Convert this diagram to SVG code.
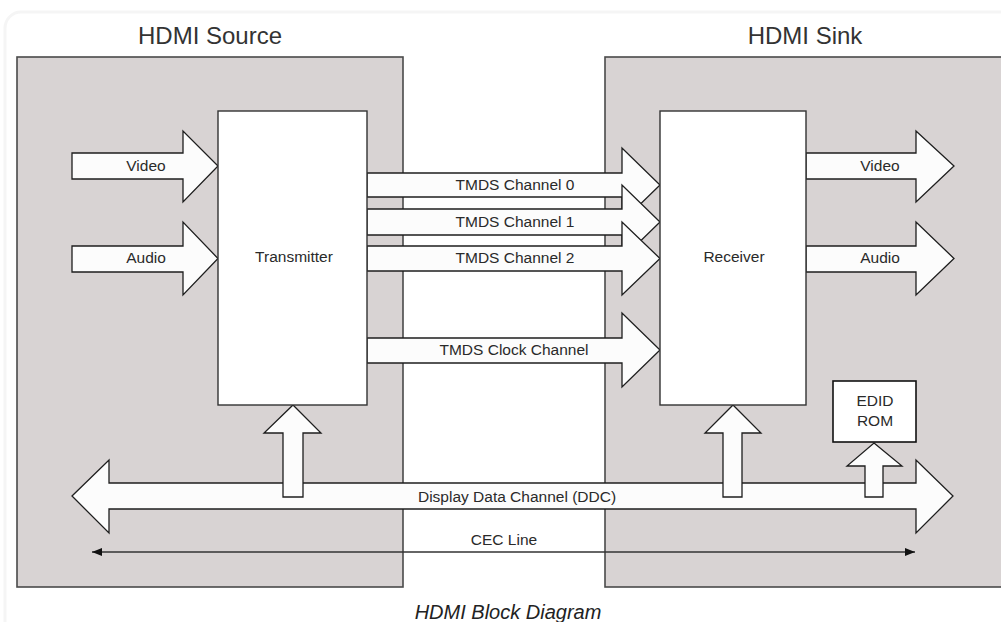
<svg xmlns="http://www.w3.org/2000/svg" width="1001" height="622" viewBox="0 0 1001 622">
<defs>
<style>
.frame{fill:none;stroke:#f5f5f5;stroke-width:3}
.device{fill:#d8d3d3;stroke:#4a4a4a;stroke-width:1.6}
.block{fill:#ffffff;stroke:#333333;stroke-width:1.4}
.arrow{fill:#fcfcfc;stroke:#1e1e1e;stroke-width:1.3;stroke-linejoin:miter}
.title{font-family:"Liberation Sans",Arial,sans-serif;font-size:24px;fill:#333333;text-anchor:middle}
.lbl{font-family:"Liberation Sans",Arial,sans-serif;font-size:15.5px;fill:#2a2a2a;text-anchor:middle}
.cap{font-family:"Liberation Sans",Arial,sans-serif;font-size:20px;font-style:italic;fill:#222222;text-anchor:middle}
.cec{stroke:#333333;stroke-width:1.3;fill:none}
</style>
<marker id="ah" viewBox="0 0 10 8" refX="10" refY="4" markerWidth="10" markerHeight="8" markerUnits="userSpaceOnUse" orient="auto-start-reverse">
<path d="M0,0 L10,4 L0,8 Z" fill="#111111"/>
</marker>
</defs>
<rect x="0" y="0" width="1001" height="622" fill="#ffffff"/>
<rect class="frame" x="5" y="12" width="1010" height="630" rx="16"/>

<g id="hdmi-source">
<rect class="device" x="17" y="57" width="386" height="530"/>
<text class="title" x="210" y="44">HDMI Source</text>
</g>
<g id="hdmi-sink">
<rect class="device" x="605" y="57" width="410" height="530"/>
<text class="title" x="805" y="44">HDMI Sink</text>
</g>

<g id="connectors">
<polygon id="src-video" class="arrow" points="72,153 183,153 183,131 218,166 183,202 183,179 72,179"/>
<polygon id="src-audio" class="arrow" points="72,246 183,246 183,222 218,258.5 183,295 183,272 72,272"/>
<polygon id="tmds0" class="arrow" points="367,173 622,173 622,148 660,185 622,222 622,197 367,197"/>
<polygon id="tmds1" class="arrow" points="367,209 622,209 622,185 660,222 622,259 622,235 367,235"/>
<polygon id="tmds2" class="arrow" points="367,246 622,246 622,222 660,258.5 622,295 622,271 367,271"/>
<polygon id="tmds-clk" class="arrow" points="367,338 622,338 622,313 660,350 622,387 622,363 367,363"/>
<polygon id="sink-video" class="arrow" points="806,153 916,153 916,131 954,166 916,202 916,179 806,179"/>
<polygon id="sink-audio" class="arrow" points="806,246 916,246 916,222 954,258.5 916,295 916,272 806,272"/>
<polygon id="ddc" class="arrow" points="72,496 109,460 109,483 916,483 916,460 953,496 916,533 916,509 109,509 109,533"/>
<polygon id="ddc-tx" class="arrow" points="293,405 321,433 303,433 303,497 283,497 283,433 264,433"/>
<polygon id="ddc-rx" class="arrow" points="733,405 761,433 742,433 742,497 723,497 723,433 705,433"/>
<polygon id="ddc-edid" class="arrow" points="874,443 902,466 883,466 883,497 865,497 865,466 847,466"/>
<line id="cec" class="cec" x1="92" y1="552" x2="915" y2="552" marker-start="url(#ah)" marker-end="url(#ah)"/>
<text class="lbl" x="146" y="171">Video</text>
<text class="lbl" x="146" y="263">Audio</text>
<text class="lbl" x="515" y="190">TMDS Channel 0</text>
<text class="lbl" x="515" y="227">TMDS Channel 1</text>
<text class="lbl" x="515" y="263">TMDS Channel 2</text>
<text class="lbl" x="514" y="355">TMDS Clock Channel</text>
<text class="lbl" x="880" y="171">Video</text>
<text class="lbl" x="880" y="263">Audio</text>
<text class="lbl" x="517" y="502">Display Data Channel (DDC)</text>
<text class="lbl" x="504" y="545">CEC Line</text>
</g>

<g id="transmitter">
<rect class="block" x="218" y="111" width="149" height="294"/>
<text class="lbl" x="294" y="262">Transmitter</text>
</g>
<g id="receiver">
<rect class="block" x="660" y="111" width="146" height="294"/>
<text class="lbl" x="734" y="262">Receiver</text>
</g>
<g id="edid-rom">
<rect class="block" x="833" y="381" width="83" height="61" style="stroke:#111111;stroke-width:1.6"/>
<text class="lbl" x="875" y="406">EDID</text>
<text class="lbl" x="875" y="426">ROM</text>
</g>

<text class="cap" x="508" y="619">HDMI Block Diagram</text>
</svg>
